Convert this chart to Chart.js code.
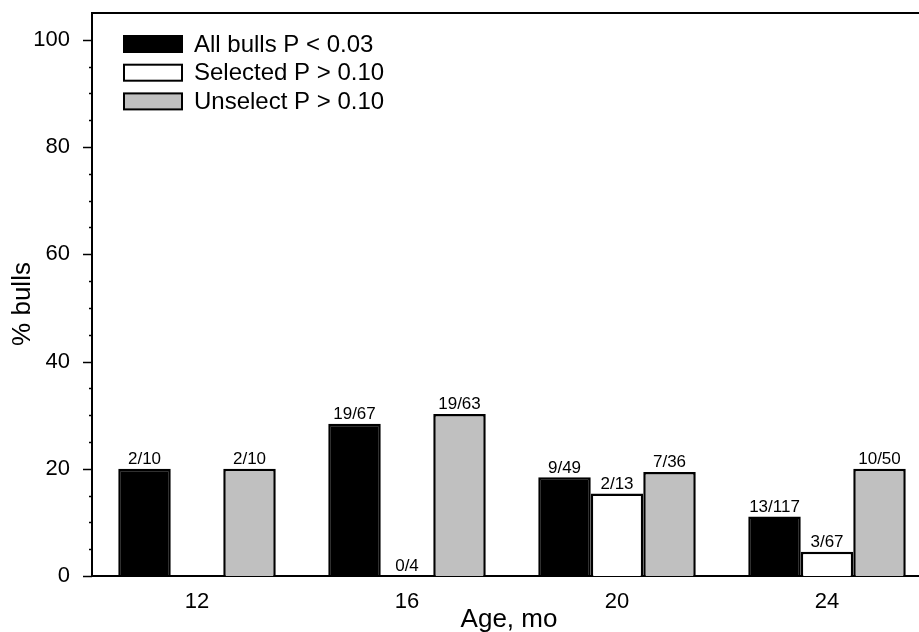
<!DOCTYPE html>
<html>
<head>
<meta charset="utf-8">
<script src="https://cdn.jsdelivr.net/npm/chart.js@4"></script>
<style>
  html, body { margin: 0; padding: 0; background: #fff; overflow: hidden; }
  #wrap { width: 935px; height: 632px; position: relative; }
</style>
</head>
<body>
<div id="wrap"><canvas id="bullsChart"></canvas></div>
<script>
// data
const ages = ['12', '16', '20', '24'];
const allBulls = [20, 28.4, 18.4, 11.1];
const selected = [null, 0, 15.4, 4.5];
const unselect = [20, 30.2, 19.4, 20];

const allLabels = ['2/10', '19/67', '9/49', '13/117'];
const selLabels = [null, '0/4', '2/13', '3/67'];
const unsLabels = ['2/10', '19/63', '7/36', '10/50'];

const seriesNames = ['All bulls P < 0.03', 'Selected P > 0.10', 'Unselect P > 0.10'];
const yMax = 105;
const yMajor = 20;
const yMinor = 5;

const FONT = 'Liberation Sans, Arial, sans-serif';

// fractions above bars, ticks, frame, titles and legend
const decorPlugin = {
    id: 'decor',
    afterDatasetsDraw(chart) {
        const ctx = chart.ctx;
        const area = chart.chartArea;
        const yScale = chart.scales.y;

        ctx.save();
        // bar labels
        ctx.font = '17px ' + FONT;
        ctx.fillStyle = '#000';
        ctx.textAlign = 'center';
        ctx.textBaseline = 'bottom';
        chart.data.datasets.forEach((ds, i) => {
            const meta = chart.getDatasetMeta(i);
            meta.data.forEach((bar, j) => {
                const txt = ds.fracLabels[j];
                if (txt == null) return;
                ctx.fillText(txt, bar.x, bar.y - 1);
            });
        });

        // top frame line
        ctx.strokeStyle = '#000';
        ctx.lineWidth = 2;
        ctx.beginPath();
        ctx.moveTo(area.left - 1, area.top);
        ctx.lineTo(chart.width, area.top);
        ctx.stroke();

        // y ticks, long on majors, short on minors
        ctx.lineWidth = 1.5;
        for (let v = 0; v <= 100; v += yMinor) {
            const y = Math.round(yScale.getPixelForValue(v)) + 0.5;
            const len = v % yMajor === 0 ? 9 : 3;
            ctx.beginPath();
            ctx.moveTo(area.left - len, y);
            ctx.lineTo(area.left, y);
            ctx.stroke();
        }

        // axis titles
        ctx.font = '26px ' + FONT;
        ctx.textAlign = 'center';
        ctx.textBaseline = 'middle';
        ctx.fillText('Age, mo', 509, 620);
        ctx.save();
        ctx.translate(23, 304);
        ctx.rotate(-Math.PI / 2);
        ctx.fillText('% bulls', 0, 0);
        ctx.restore();

        // legend
        ctx.font = '24px ' + FONT;
        ctx.textAlign = 'left';
        ctx.lineWidth = 2;
        chart.data.datasets.forEach((ds, i) => {
            const cy = 44 + i * 28.7;
            ctx.fillStyle = ds.backgroundColor;
            ctx.fillRect(124, cy - 8, 58, 16);
            ctx.strokeStyle = '#000';
            ctx.strokeRect(124, cy - 8, 58, 16);
            ctx.fillStyle = '#000';
            ctx.fillText(ds.label, 194, cy + 1);
        });
        ctx.restore();
    }
};

const ctx = document.getElementById('bullsChart');

new Chart(ctx, {
    type: 'bar',
    data: {
        labels: ages,
        datasets: [{
            label: seriesNames[0],
            data: allBulls,
            fracLabels: allLabels,
            backgroundColor: '#000000',
            borderColor: '#000000',
            borderWidth: 2.5
        }, {
            label: seriesNames[1],
            data: selected,
            fracLabels: selLabels,
            backgroundColor: '#ffffff',
            borderColor: '#000000',
            borderWidth: 2.5
        }, {
            label: seriesNames[2],
            data: unselect,
            fracLabels: unsLabels,
            backgroundColor: '#c0c0c0',
            borderColor: '#000000',
            borderWidth: 2.5
        }]
    },
    options: {
        responsive: true,
        maintainAspectRatio: false,
        animation: false,
        layout: { padding: { top: 13, right: 3, left: 0, bottom: 0 } },
        datasets: {
            bar: { categoryPercentage: 0.75, barPercentage: 1.0 }
        },
        plugins: {
            legend: { display: false },
            tooltip: { enabled: false }
        },
        scales: {
            x: {
                grid: { display: false, drawTicks: false },
                border: { display: true, color: '#000', width: 2 },
                ticks: { color: '#000', font: { family: FONT, size: 22 }, padding: 13 },
                afterFit: s => { s.height = 56; }
            },
            y: {
                min: 0,
                max: yMax,
                grid: { display: false },
                border: { display: true, color: '#000', width: 2 },
                ticks: {
                    stepSize: yMinor,
                    color: '#000',
                    padding: 14,
                    font: { family: FONT, size: 22 },
                    callback: v => (v % yMajor === 0 && v <= 100) ? v : ''
                },
                afterFit: s => {
                    s.width = 92;
                    s.paddingTop = 0;
                    s.paddingBottom = 0;
                }
            }
        }
    },
    plugins: [decorPlugin]
});
</script>
</body>
</html>
